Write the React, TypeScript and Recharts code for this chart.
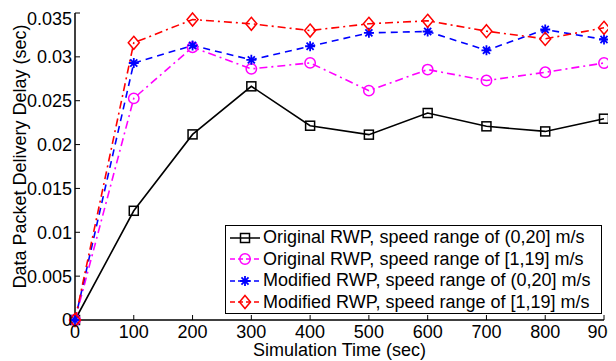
import { CartesianGrid, Legend, Line, LineChart, XAxis, YAxis } from "recharts";

const times = [0, 100, 200, 300, 400, 500, 600, 700, 800, 900];
const origWide = [0, 0.01245, 0.02116, 0.02664, 0.02215, 0.02113, 0.0236, 0.02208, 0.0215, 0.02295];
const origNarrow = [0, 0.02527, 0.0311, 0.02863, 0.02931, 0.02615, 0.02855, 0.0273, 0.02824, 0.0293];
const modWide = [0, 0.0293, 0.0313, 0.02966, 0.03121, 0.03274, 0.03289, 0.03075, 0.03312, 0.03198];
const modNarrow = [0, 0.0316, 0.03426, 0.03377, 0.033, 0.03377, 0.03411, 0.03293, 0.03205, 0.03331];

const xTicks = [0, 100, 200, 300, 400, 500, 600, 700, 800, 900];
const yTicks = [0, 0.005, 0.01, 0.015, 0.02, 0.025, 0.03, 0.035];

const data = times.map((t, i) => ({
  t,
  origWide: origWide[i],
  origNarrow: origNarrow[i],
  modWide: modWide[i],
  modNarrow: modNarrow[i],
}));

const FONT = "'Liberation Sans', Arial, sans-serif";

type Marker = "square" | "circle" | "star" | "diamond";

function drawMarker(kind: Marker, cx: number, cy: number, color: string, key?: string) {
  if (kind === "square") {
    return <rect key={key} x={cx - 4.5} y={cy - 4.5} width={9} height={9} fill="none" stroke={color} strokeWidth={1.5} />;
  }
  if (kind === "circle") {
    return <circle key={key} cx={cx} cy={cy} r={5.2} fill="none" stroke={color} strokeWidth={1.5} />;
  }
  if (kind === "diamond") {
    return (
      <path
        key={key}
        d={`M${cx},${cy - 6.5}L${cx + 5.5},${cy}L${cx},${cy + 6.5}L${cx - 5.5},${cy}Z`}
        fill="none"
        stroke={color}
        strokeWidth={1.5}
      />
    );
  }
  const r = 5;
  const d = [0, 45, 90, 135]
    .map((a) => {
      const rad = (a * Math.PI) / 180;
      const dx = r * Math.cos(rad);
      const dy = r * Math.sin(rad);
      return `M${cx - dx},${cy - dy}L${cx + dx},${cy + dy}`;
    })
    .join("");
  return <path key={key} d={d} stroke={color} strokeWidth={1.8} fill="none" />;
}

const series = [
  { key: "origWide", name: "Original RWP, speed range of (0,20] m/s", color: "#000000", dash: undefined, marker: "square" as Marker },
  { key: "origNarrow", name: "Original RWP, speed range of [1,19] m/s", color: "#ff00ff", dash: "8 4 2 4", marker: "circle" as Marker },
  { key: "modWide", name: "Modified RWP, speed range of (0,20] m/s", color: "#0000ff", dash: "7 5", marker: "star" as Marker },
  { key: "modNarrow", name: "Modified RWP, speed range of [1,19] m/s", color: "#ff0000", dash: "8 4 2 4", marker: "diamond" as Marker },
];

function makeDot(kind: Marker, color: string) {
  return (props: any) => {
    const { cx, cy, index } = props;
    if (cx == null || cy == null) return <g key={`d${index}`} />;
    return drawMarker(kind, cx, cy, color, `${kind}-${index}`);
  };
}

function LegendBox() {
  return (
    <div
      style={{
        boxSizing: "border-box",
        width: 377,
        border: "1.5px solid #000",
        background: "#fff",
        padding: "1px 4px 0 4px",
        fontFamily: FONT,
        fontSize: 18,
        color: "#000",
      }}
    >
      {series.map((s) => (
        <div key={s.key} style={{ display: "flex", alignItems: "center", height: 21.5 }}>
          <svg width={30} height={20} style={{ marginRight: 3, flex: "none" }}>
            <line x1={0} y1={10} x2={30} y2={10} stroke={s.color} strokeWidth={1.5} strokeDasharray={s.dash ? "5 3" : undefined} />
            {drawMarker(s.marker, 15, 10, s.color)}
          </svg>
          <span style={{ whiteSpace: "nowrap" }}>{s.name}</span>
        </div>
      ))}
    </div>
  );
}

const tickStyle = { fontSize: 18, fontFamily: FONT, fill: "#000" };

function XLabel(props: any) {
  const vb = props.viewBox || {};
  return (
    <text x={vb.x + vb.width / 2} y={vb.y + 36} textAnchor="middle" style={tickStyle}>
      Simulation Time (sec)
    </text>
  );
}

function YLabel(props: any) {
  const vb = props.viewBox || {};
  const x = 18;
  const y = vb.y + vb.height / 2 - 10;
  return (
    <text x={x} y={y} textAnchor="middle" transform={`rotate(-90, ${x}, ${y})`} style={tickStyle}>
      Data Packet Delivery Delay (sec)
    </text>
  );
}

export default function App() {
  return (
    <LineChart width={608} height={353} data={data} margin={{ top: 5, right: 12, bottom: 0, left: 0 }}>
      <CartesianGrid stroke="none" fill="#fff" />
      <XAxis
        dataKey="t"
        type="number"
        domain={[0, 900]}
        ticks={xTicks}
        height={41}
        tick={tickStyle}
        tickSize={-5}
        tickMargin={10}
        axisLine={{ stroke: "#000", strokeWidth: 1.5 }}
        tickLine={{ stroke: "#000" }}
        label={<XLabel />}
      />
      <XAxis
        xAxisId="top"
        orientation="top"
        dataKey="t"
        type="number"
        domain={[0, 900]}
        ticks={xTicks}
        height={0}
        tick={false}
        tickSize={-5}
        axisLine={{ stroke: "#000", strokeWidth: 1.5 }}
        tickLine={{ stroke: "#000" }}
      />
      <YAxis
        type="number"
        domain={[0, 0.035]}
        ticks={yTicks}
        width={67}
        tick={tickStyle}
        tickSize={-5}
        tickMargin={8}
        axisLine={{ stroke: "#000", strokeWidth: 1.5 }}
        tickLine={{ stroke: "#000" }}
        label={<YLabel />}
      />
      <YAxis
        yAxisId="right"
        orientation="right"
        type="number"
        domain={[0, 0.035]}
        ticks={yTicks}
        width={0}
        tick={false}
        tickSize={-5}
        axisLine={{ stroke: "#000", strokeWidth: 1.5 }}
        tickLine={{ stroke: "#000" }}
      />
      {series.map((s) => (
        <Line
          key={s.key}
          dataKey={s.key}
          name={s.name}
          type="linear"
          stroke={s.color}
          strokeWidth={1.6}
          strokeDasharray={s.dash}
          dot={makeDot(s.marker, s.color)}
          activeDot={false}
          isAnimationActive={false}
        />
      ))}
      <Legend
        layout="horizontal"
        verticalAlign="middle"
        align="center"
        wrapperStyle={{ left: 217, top: 217, width: 377 }}
        content={() => <LegendBox />}
      />
    </LineChart>
  );
}
